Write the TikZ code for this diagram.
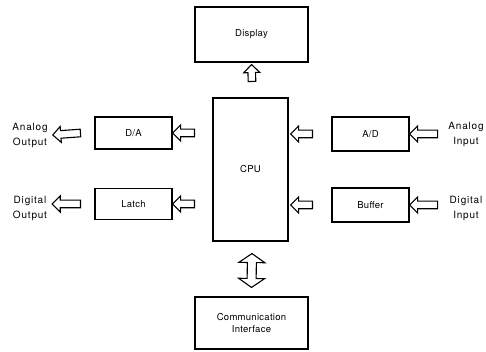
\documentclass[tikz,border=0pt]{standalone}
\usepackage{fontspec}
\setmainfont{TeX Gyre Heros}
\newfontfamily\lblfont[LetterSpace=8]{TeX Gyre Heros}
\newfontfamily\boxfont[LetterSpace=3]{TeX Gyre Heros}
\usetikzlibrary{calc}
\tikzset{
  blk/.style={draw, line width=1.1pt, inner sep=0pt, align=center,
              font=\boxfont\fontsize{9.5}{12}\selectfont},
  lbl/.style={align=center, inner sep=0pt, font=\lblfont\fontsize{10}{15}\selectfont},
  barrow/.style={draw, line width=1.1pt, line join=miter, fill=white},
}
\newcommand\blockarrow[2]{%
  \path ($(#2)!8pt!(#1)$) coordinate (ba-h);
  \draw[barrow] ($(#1)!3.8pt!90:(#2)$) -- ($(ba-h)!3.8pt!90:(#2)$)
    -- ($(ba-h)!8pt!90:(#2)$) -- (#2) -- ($(ba-h)!8pt!-90:(#2)$)
    -- ($(ba-h)!3.8pt!-90:(#2)$) -- ($(#1)!3.8pt!-90:(#2)$) -- cycle;
}
\newcommand\dblarrow[2]{%
  \path ($(#1)!9pt!(#2)$) coordinate (da-a) ($(#2)!9pt!(#1)$) coordinate (da-b);
  \draw[barrow] (#1) -- ($(da-a)!13pt!90:(#2)$) -- ($(da-a)!4.5pt!90:(#2)$)
    -- ($(da-b)!4.5pt!90:(#2)$) -- ($(da-b)!13pt!90:(#2)$) -- (#2)
    -- ($(da-b)!13pt!-90:(#2)$) -- ($(da-b)!4.5pt!-90:(#2)$)
    -- ($(da-a)!4.5pt!-90:(#2)$) -- ($(da-a)!13pt!-90:(#2)$) -- cycle;
}
\begin{document}
\begin{tikzpicture}[x=1pt,y=-1pt]
\useasboundingbox (0,0) rectangle (486,352);
% boxes
\node[blk, minimum width=113pt, minimum height=55pt] (disp) at (251.5,34.5) {Display};
\node[blk, minimum width=75pt, minimum height=143pt] (cpu) at (250.5,169.5) {CPU};
\node[blk, minimum width=113pt, minimum height=52pt] (comm) at (251.5,323)
  {Communication\\Interface};
\node[blk, minimum width=77pt, minimum height=32pt] (da) at (133.5,133) {D/A};
\node[blk, minimum width=77pt, minimum height=31pt] (latch) at (133.5,204) {Latch};
\node[blk, minimum width=77pt, minimum height=34pt] (ad) at (370.5,134) {A/D};
\node[blk, minimum width=77pt, minimum height=34pt] (buf) at (370.5,205) {Buffer};
% outside labels
\node[lbl] (aout) at (30,135) {Analog\\Output};
\node[lbl] (dout) at (30,208.5) {Digital\\Output};
\node[lbl] (ain) at (466,134.5) {Analog\\Input};
\node[lbl] (din) at (466,208.5) {Digital\\Input};
% arrow end points
\coordinate (dispT) at ($(disp.south)+(0,2)$);
\coordinate (dispS) at ($(cpu.north)+(1.5,-16)$);
\coordinate (daS) at ($(cpu.west|-da)+(-18,0)$);
\coordinate (latchS) at ($(cpu.west|-latch)+(-18,0)$);
\coordinate (aoutT) at ($(aout.east)+(5,0)$);
\coordinate (aoutS) at ($(da.west)+(-14,0)$);
\coordinate (doutT) at ($(dout.east|-latch)+(5,0)$);
\coordinate (doutS) at ($(latch.west)+(-14,0)$);
\coordinate (adS) at ($(ad.west)+(-19,0)$);
\coordinate (adT) at ($(cpu.east|-ad)+(2,0)$);
\coordinate (bufS) at ($(buf.west)+(-19,0)$);
\coordinate (bufT) at ($(cpu.east|-buf)+(2,0)$);
\coordinate (ainS) at ($(ad.east)+(28,0)$);
\coordinate (dinS) at ($(buf.east)+(28,0)$);
\coordinate (cpuB) at ($(cpu.south)+(1.5,12)$);
\coordinate (commT) at ($(comm.north)+(0,-9)$);
% block arrows
\blockarrow{dispS}{dispT}
\blockarrow{daS}{da.east}
\blockarrow{latchS}{latch.east}
\blockarrow{aoutS}{aoutT}
\blockarrow{doutS}{doutT}
\blockarrow{adS}{adT}
\blockarrow{bufS}{bufT}
\blockarrow{ainS}{ad.east}
\blockarrow{dinS}{buf.east}
\dblarrow{cpuB}{commT}
\end{tikzpicture}
\end{document}
